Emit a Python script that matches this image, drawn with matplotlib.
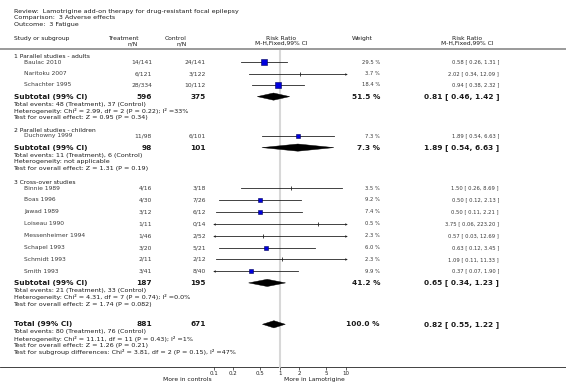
import numpy as np
import matplotlib
matplotlib.use("Agg")
import matplotlib.pyplot as plt
from matplotlib.patches import Polygon

# ---- data -------------------------------------------------------------
review_lines = ["Review:  Lamotrigine add-on therapy for drug-resistant focal epilepsy",
                "Comparison:  3 Adverse effects",
                "Outcome:  3 Fatigue"]

group_titles = ["1 Parallel studies - adults", "2 Parallel studies - children", "3 Cross-over studies"]

study_names = ["Baulac 2010", "Naritoku 2007", "Schachter 1995",
               "Duchowny 1999",
               "Binnie 1989", "Boas 1996", "Jawad 1989", "Loiseau 1990",
               "Messenheimer 1994", "Schapel 1993", "Schmidt 1993", "Smith 1993"]
study_group = [0, 0, 0, 1, 2, 2, 2, 2, 2, 2, 2, 2]
treat_nN = ["14/141", "6/121", "28/334", "11/98", "4/16", "4/30", "3/12", "1/11",
            "1/46", "3/20", "2/11", "3/41"]
ctrl_nN = ["24/141", "3/122", "10/112", "6/101", "3/18", "7/26", "6/12", "0/14",
           "2/52", "5/21", "2/12", "8/40"]
rr = [0.58, 2.02, 0.94, 1.89, 1.50, 0.50, 0.50, 3.75, 0.57, 0.63, 1.09, 0.37]
rr_lo = [0.26, 0.34, 0.38, 0.54, 0.26, 0.12, 0.11, 0.06, 0.03, 0.12, 0.11, 0.07]
rr_hi = [1.31, 12.09, 2.32, 6.63, 8.69, 2.13, 2.21, 223.20, 12.69, 3.45, 11.33, 1.90]
weights = [29.5, 3.7, 18.4, 7.3, 3.5, 9.2, 7.4, 0.5, 2.3, 6.0, 2.3, 9.9]

sub_treat_N = [596, 98, 187]
sub_ctrl_N = [375, 101, 195]
sub_rr = [0.81, 1.89, 0.65]
sub_lo = [0.46, 0.54, 0.34]
sub_hi = [1.42, 6.63, 1.23]
sub_weight = [51.5, 7.3, 41.2]
sub_notes = [
    ["Total events: 48 (Treatment), 37 (Control)",
     "Heterogeneity: Chi\u00b2 = 2.99, df = 2 (P = 0.22); I\u00b2 =33%",
     "Test for overall effect: Z = 0.95 (P = 0.34)"],
    ["Total events: 11 (Treatment), 6 (Control)",
     "Heterogeneity: not applicable",
     "Test for overall effect: Z = 1.31 (P = 0.19)"],
    ["Total events: 21 (Treatment), 33 (Control)",
     "Heterogeneity: Chi\u00b2 = 4.31, df = 7 (P = 0.74); I\u00b2 =0.0%",
     "Test for overall effect: Z = 1.74 (P = 0.082)"],
]

total_treat_N, total_ctrl_N = 881, 671
total_rr, total_lo, total_hi, total_weight = 0.82, 0.55, 1.22, 100.0
total_notes = ["Total events: 80 (Treatment), 76 (Control)",
               "Heterogeneity: Chi\u00b2 = 11.11, df = 11 (P = 0.43); I\u00b2 =1%",
               "Test for overall effect: Z = 1.26 (P = 0.21)",
               "Test for subgroup differences: Chi\u00b2 = 3.81, df = 2 (P = 0.15), I\u00b2 =47%"]

xticks = [0.1, 0.2, 0.5, 1, 2, 5, 10]
xtick_labels = ["0.1", "0.2", "0.5", "1", "2", "5", "10"]

# ---- figure (pixel coordinate layout) ---------------------------------
W, H = 566, 384
fig = plt.figure(figsize=(W / 100, H / 100), dpi=100)
fig.patch.set_facecolor("white")

ax = fig.add_axes([0, 0, 1, 1])
ax.set_xlim(0, W)
ax.set_ylim(H, 0)
ax.axis("off")

AX_Y = 367
x_left, x_right = 213.5, 345.7
fp = fig.add_axes([x_left / W, (H - AX_Y) / H, (x_right - x_left) / W, AX_Y / H])
fp.set_xscale("log")
fp.set_xlim(0.1, 10)
fp.set_ylim(AX_Y, 0)
fp.patch.set_alpha(0)
for s in fp.spines.values():
    s.set_visible(False)
fp.set_yticks([])
fp.set_xticks(xticks)
fp.set_xticklabels(xtick_labels)
fp.xaxis.set_minor_locator(matplotlib.ticker.NullLocator())
fp.tick_params(axis="x", length=2.2, width=0.5, pad=0.8, labelsize=4.0,
               colors="#222222")

FS = 4.3
FS_NOTE = 4.55
FS_SMALL = 3.8
FS_BOLD = 5.3
TXT = "#1a1a1a"
GREY = "#3a3a3a"

X_STUDY, X_NAME = 13.5, 24
X_TREAT, X_CTRL = 152, 206
X_WEIGHT, X_RR = 380, 499

# header
for i, line in enumerate(review_lines):
    ax.text(X_STUDY, 11.7 + i * 6.2, line, fontsize=FS_NOTE, color=TXT, va="center")
ax.text(X_STUDY, 38.3, "Study or subgroup", fontsize=FS, color=TXT, va="center")
ax.text(123.5, 38.3, "Treatment", fontsize=FS, color=TXT, va="center", ha="center")
ax.text(138, 43.6, "n/N", fontsize=FS, color=TXT, va="center", ha="right")
ax.text(176, 38.3, "Control", fontsize=FS, color=TXT, va="center", ha="center")
ax.text(187, 43.6, "n/N", fontsize=FS, color=TXT, va="center", ha="right")
ax.text(281, 38.3, "Risk Ratio", fontsize=FS, color=TXT, va="center", ha="center")
ax.text(281, 43.6, "M-H,Fixed,99% CI", fontsize=FS, color=TXT, va="center", ha="center")
ax.text(362, 38.3, "Weight", fontsize=FS, color=TXT, va="center", ha="center")
ax.text(467, 38.3, "Risk Ratio", fontsize=FS, color=TXT, va="center", ha="center")
ax.text(467, 43.6, "M-H,Fixed,99% CI", fontsize=FS, color=TXT, va="center", ha="center")

ax.plot([0, W], [49.3, 49.3], color="#9a9a9a", lw=1.4, solid_capstyle="butt")
fp.plot([1, 1], [50.5, AX_Y], color="#d8d8d8", lw=1.5, zorder=0, clip_on=False)
ax.plot([0, W], [AX_Y, AX_Y], color="#222222", lw=0.6)


def draw_ci(y, est, lo, hi, w):
    a, b = max(lo, 0.1), min(hi, 10)
    fp.plot([a, b], [y, y], color="#222222", lw=0.6, clip_on=False, zorder=2)
    if lo < 0.1:
        fp.plot([0.1], [y], marker="<", ms=1.8, color="#222222", mew=0, clip_on=False)
    if hi > 10:
        fp.plot([10], [y], marker=">", ms=1.8, color="#222222", mew=0, clip_on=False)
    if w >= 5:
        side = max(1.25 * np.sqrt(w), 3.5) * 0.72
        fp.plot([est], [y], marker="s", ms=side, mfc="#0000dd", mec="#00005a",
                mew=0.4, clip_on=False, zorder=3)
    else:
        fp.plot([est], [y], marker="|", ms=2.3, color="#222222", mew=0.6,
                clip_on=False, zorder=3)


def draw_diamond(y, est, lo, hi, h=3.6):
    fp.add_patch(Polygon([(lo, y), (est, y - h), (hi, y), (est, y + h)],
                         closed=True, facecolor="black", edgecolor="black",
                         lw=0.3, clip_on=False, zorder=3))


def summary_row(y, label, nt, nc, w, est, lo, hi):
    ax.text(X_STUDY, y, label, fontsize=FS_BOLD, fontweight="bold", color=TXT, va="center")
    ax.text(X_TREAT, y, str(nt), fontsize=FS_BOLD, fontweight="bold", color=TXT,
            va="center", ha="right")
    ax.text(X_CTRL, y, str(nc), fontsize=FS_BOLD, fontweight="bold", color=TXT,
            va="center", ha="right")
    ax.text(X_WEIGHT, y, "%.1f %%" % w, fontsize=FS_BOLD, fontweight="bold",
            color=TXT, va="center", ha="right")
    ax.text(X_RR, y, "%.2f [ %.2f, %.2f ]" % (est, lo, hi), fontsize=FS_BOLD,
            fontweight="bold", color=TXT, va="center", ha="right")
    draw_diamond(y, est, lo, hi)


group_y = [56.7, 130.7, 182.7]
step = [11.5, 11.5, 11.9]
for g, title in enumerate(group_titles):
    y = group_y[g]
    ax.text(X_STUDY, y, title, fontsize=FS, color=TXT, va="center")
    idx = [i for i, sg in enumerate(study_group) if sg == g]
    y += 5.3
    for k, i in enumerate(idx):
        yy = y + k * step[g]
        ax.text(X_NAME, yy, study_names[i], fontsize=FS, color=GREY, va="center")
        ax.text(X_TREAT, yy, treat_nN[i], fontsize=FS, color=GREY, va="center", ha="right")
        ax.text(X_CTRL, yy, ctrl_nN[i], fontsize=FS, color=GREY, va="center", ha="right")
        ax.text(X_WEIGHT, yy, "%.1f %%" % weights[i], fontsize=FS_SMALL, color=GREY,
                va="center", ha="right")
        ax.text(X_RR, yy, "%.2f [ %.2f, %.2f ]" % (rr[i], rr_lo[i], rr_hi[i]),
                fontsize=FS_SMALL, color=GREY, va="center", ha="right")
        draw_ci(yy, rr[i], rr_lo[i], rr_hi[i], weights[i])
    ys = y + (len(idx) - 1) * step[g] + 11.6
    summary_row(ys, "Subtotal (99% CI)", sub_treat_N[g], sub_ctrl_N[g], sub_weight[g],
                sub_rr[g], sub_lo[g], sub_hi[g])
    for k, note in enumerate(sub_notes[g]):
        ax.text(X_STUDY, ys + 7.5 + k * 6.9, note, fontsize=FS_NOTE, color=TXT, va="center")

yt = 324.3
summary_row(yt, "Total (99% CI)", total_treat_N, total_ctrl_N, total_weight,
            total_rr, total_lo, total_hi)
for k, note in enumerate(total_notes):
    ax.text(X_STUDY, yt + 7.6 + k * 6.8, note, fontsize=FS_NOTE, color=TXT, va="center")

ax.text(187, 379.3, "More in controls", fontsize=FS, color=TXT, va="center", ha="center")
ax.text(314, 379.3, "More in Lamotrigine", fontsize=FS, color=TXT, va="center", ha="center")

fig.savefig("out.png", dpi=100, facecolor="white")
